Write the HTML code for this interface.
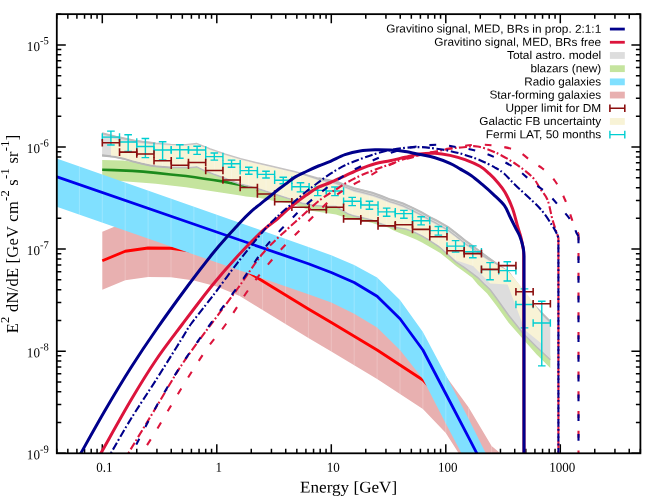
<!DOCTYPE html>
<html><head><meta charset="utf-8"><title>plot</title>
<style>
html,body{margin:0;padding:0;background:#fff;}
body{width:664px;height:496px;overflow:hidden;}
svg{display:block;}
text{fill:#000;}
.ss{font-family:"Liberation Sans",sans-serif;}
.sf{font-family:"Liberation Serif",serif;}
</style></head><body>
<svg width="664" height="496" viewBox="0 0 664 496" style="will-change:transform">
<rect x="0" y="0" width="664" height="496" fill="#fff"/>
<defs><clipPath id="cp"><rect x="56.8" y="14.15" width="583.6" height="439.15000000000003"/></clipPath></defs>

<path d="M56.74 453.3v-4.5 M56.74 14.15v4.5 M67.83 453.3v-4.5 M67.83 14.15v4.5 M76.9 453.3v-4.5 M76.9 14.15v4.5 M84.56 453.3v-4.5 M84.56 14.15v4.5 M91.2 453.3v-4.5 M91.2 14.15v4.5 M97.06 453.3v-4.5 M97.06 14.15v4.5 M102.3 453.3v-9 M102.3 14.15v9 M136.77 453.3v-4.5 M136.77 14.15v4.5 M156.93 453.3v-4.5 M156.93 14.15v4.5 M171.24 453.3v-4.5 M171.24 14.15v4.5 M182.33 453.3v-4.5 M182.33 14.15v4.5 M191.4 453.3v-4.5 M191.4 14.15v4.5 M199.06 453.3v-4.5 M199.06 14.15v4.5 M205.7 453.3v-4.5 M205.7 14.15v4.5 M211.56 453.3v-4.5 M211.56 14.15v4.5 M216.8 453.3v-9 M216.8 14.15v9 M251.27 453.3v-4.5 M251.27 14.15v4.5 M271.43 453.3v-4.5 M271.43 14.15v4.5 M285.74 453.3v-4.5 M285.74 14.15v4.5 M296.83 453.3v-4.5 M296.83 14.15v4.5 M305.9 453.3v-4.5 M305.9 14.15v4.5 M313.56 453.3v-4.5 M313.56 14.15v4.5 M320.2 453.3v-4.5 M320.2 14.15v4.5 M326.06 453.3v-4.5 M326.06 14.15v4.5 M331.3 453.3v-9 M331.3 14.15v9 M365.77 453.3v-4.5 M365.77 14.15v4.5 M385.93 453.3v-4.5 M385.93 14.15v4.5 M400.24 453.3v-4.5 M400.24 14.15v4.5 M411.33 453.3v-4.5 M411.33 14.15v4.5 M420.4 453.3v-4.5 M420.4 14.15v4.5 M428.06 453.3v-4.5 M428.06 14.15v4.5 M434.7 453.3v-4.5 M434.7 14.15v4.5 M440.56 453.3v-4.5 M440.56 14.15v4.5 M445.8 453.3v-9 M445.8 14.15v9 M480.27 453.3v-4.5 M480.27 14.15v4.5 M500.43 453.3v-4.5 M500.43 14.15v4.5 M514.74 453.3v-4.5 M514.74 14.15v4.5 M525.83 453.3v-4.5 M525.83 14.15v4.5 M534.9 453.3v-4.5 M534.9 14.15v4.5 M542.56 453.3v-4.5 M542.56 14.15v4.5 M549.2 453.3v-4.5 M549.2 14.15v4.5 M555.06 453.3v-4.5 M555.06 14.15v4.5 M560.3 453.3v-9 M560.3 14.15v9 M594.77 453.3v-4.5 M594.77 14.15v4.5 M614.93 453.3v-4.5 M614.93 14.15v4.5 M629.24 453.3v-4.5 M629.24 14.15v4.5 M640.33 453.3v-4.5 M640.33 14.15v4.5 M56.8 453.3h9 M640.4 453.3h-9 M56.8 422.56h4.5 M640.4 422.56h-4.5 M56.8 404.59h4.5 M640.4 404.59h-4.5 M56.8 391.83h4.5 M640.4 391.83h-4.5 M56.8 381.94h4.5 M640.4 381.94h-4.5 M56.8 373.85h4.5 M640.4 373.85h-4.5 M56.8 367.02h4.5 M640.4 367.02h-4.5 M56.8 361.09h4.5 M640.4 361.09h-4.5 M56.8 355.87h4.5 M640.4 355.87h-4.5 M56.8 351.2h9 M640.4 351.2h-9 M56.8 320.46h4.5 M640.4 320.46h-4.5 M56.8 302.49h4.5 M640.4 302.49h-4.5 M56.8 289.73h4.5 M640.4 289.73h-4.5 M56.8 279.84h4.5 M640.4 279.84h-4.5 M56.8 271.75h4.5 M640.4 271.75h-4.5 M56.8 264.92h4.5 M640.4 264.92h-4.5 M56.8 258.99h4.5 M640.4 258.99h-4.5 M56.8 253.77h4.5 M640.4 253.77h-4.5 M56.8 249.1h9 M640.4 249.1h-9 M56.8 218.36h4.5 M640.4 218.36h-4.5 M56.8 200.39h4.5 M640.4 200.39h-4.5 M56.8 187.63h4.5 M640.4 187.63h-4.5 M56.8 177.74h4.5 M640.4 177.74h-4.5 M56.8 169.65h4.5 M640.4 169.65h-4.5 M56.8 162.82h4.5 M640.4 162.82h-4.5 M56.8 156.89h4.5 M640.4 156.89h-4.5 M56.8 151.67h4.5 M640.4 151.67h-4.5 M56.8 147h9 M640.4 147h-9 M56.8 116.26h4.5 M640.4 116.26h-4.5 M56.8 98.29h4.5 M640.4 98.29h-4.5 M56.8 85.53h4.5 M640.4 85.53h-4.5 M56.8 75.64h4.5 M640.4 75.64h-4.5 M56.8 67.55h4.5 M640.4 67.55h-4.5 M56.8 60.72h4.5 M640.4 60.72h-4.5 M56.8 54.79h4.5 M640.4 54.79h-4.5 M56.8 49.57h4.5 M640.4 49.57h-4.5 M56.8 44.9h9 M640.4 44.9h-9 M56.8 14.16h4.5 M640.4 14.16h-4.5" fill="none" stroke="#000" stroke-width="1.5"/>
<g clip-path="url(#cp)">
<polygon points="102.2,160 123.2,160.4 132.3,161.8 141.4,159.6 150.4,161.4 155.9,162.3 170.6,163.4 185.8,163.6 188.7,163.8 196.9,162.9 204.1,166.5 213.2,170.1 222.3,173.3 231.4,177 240.4,180.2 248,182 257.8,184.8 274.2,190 291.2,195.4 302,199.2 314.2,201.6 326.3,202.5 336,202.6 342,206.3 348.1,209.9 354.2,212.1 360.2,213.3 366.3,214.8 372.4,216.3 379,219.2 388.1,222.2 397.2,223.8 406.3,225.3 412.4,227.4 416,229.1 422,232 428.1,235.6 434.2,239.6 440.2,243.5 448,250.8 456.1,258.1 464.1,263.3 472.2,269.4 478,273.8 483.6,279.5 490,285.5 496.3,294 508.6,311.3 523.4,329.8 536.4,342.8 550.3,355.8 550.3,368.1 536.4,354.2 523.4,339.4 508.6,322.7 496.3,305.5 487.1,293.5 478,284.7 472.2,277.8 464.1,271.8 456.1,266.1 448,259.3 440.2,253 434.2,249.6 428.1,246 422,242.4 416,239.6 412.4,238.1 406.3,235.6 400.2,233.2 394.2,230.8 388.1,227.5 376,224.2 372.4,223 366.3,221.5 360.2,220.3 354.2,219.4 348.1,218.2 342,216.4 336,214.5 326.3,212.9 311,210.8 291.2,203.6 274.2,200.9 257.8,197.6 245.9,196.4 240.4,195.5 222.3,192.75 204.1,190 186,187.3 170.6,185.5 155.9,183.8 143.2,182.7 123.2,181.3 102.2,180.9" fill="#c5e49e" />
<path d="M102.2 169.8 L114.1 170.1 L132.3 170.9 L143.2 171.6 L155.9 172.9 L170.6 174.5 L186 176 L195.1 177.3 L204.1 178.7 L213.2 180 L222.3 181.4 L231.4 183.2 L240.4 185 L248 186.8" fill="none" stroke="#1c8a1c" stroke-width="2.6"/>
<polygon points="102.3,231.75 125.2,222.25 148.1,219 171,219.25 193.9,222.5 216.8,228.5 239.7,238 262.6,252 285.5,266 308.4,280 331.3,293.5 354.2,307.25 377.1,321 400,336 422.9,351 445.8,376 468.7,407.5 491.6,446 514.5,465 514.5,520 491.6,509 468.7,469 445.8,433 422.9,409 400,394 377.1,379 354.2,365.25 331.3,351.5 308.4,338 285.5,324 262.6,310 239.7,296 216.8,286.5 193.9,280.5 171,277.25 148.1,277 125.2,280.25 102.3,289.75" fill="#e8b0b0" />
<path d="M125.2 222.25V280.25 M148.1 219V277 M171 219.25V277.25 M193.9 222.5V280.5 M216.8 228.5V286.5 M239.7 238V296 M262.6 252V310 M285.5 266V324 M308.4 280V338 M331.3 293.5V351.5 M354.2 307.25V365.25 M377.1 321V379 M400 336V394 M422.9 351V409 M445.8 376V433 M468.7 407.5V469 M491.6 446V509" fill="none" stroke="#fff" stroke-opacity="0.28" stroke-width="0.8"/>
<path d="M102.3 260.75 L125.2 251.25 L148.1 248 L171 248.25 L193.9 251.5 L216.8 257.5 L239.7 267 L262.6 281 L285.5 295 L308.4 309 L331.3 322.5 L354.2 336.25 L377.1 350 L400 365 L422.9 380 L445.8 404 L468.7 440 L491.6 480" fill="none" stroke="#ff0000" stroke-width="2.8" stroke-linejoin="round"/>
<polygon points="55.36,158 308.4,247 331.3,255.3 354.2,265 377.1,277.5 400,300 422.9,332 445.8,375 468.7,419 491.6,465 468.7,467 445.8,423.5 422.9,379 400,350 377.1,327.5 354.2,313.75 331.3,302.5 308.4,294.3 55.36,206.4" fill="#80e0ff" />
<path d="M79.4 166.46V214.75 M102.3 174.51V222.71 M125.2 182.57V230.66 M148.1 190.62V238.62 M171 198.67V246.57 M193.9 206.73V254.53 M216.8 214.78V262.48 M239.7 222.84V270.44 M262.6 230.89V278.39 M285.5 238.95V286.35 M308.4 247V294.3 M331.3 255.3V302.5 M354.2 265V313.75 M377.1 277.5V327.5 M400 300V350 M422.9 332V379 M445.8 375V423.5" fill="none" stroke="#fff" stroke-opacity="0.28" stroke-width="0.8"/>
<path d="M55.36 176.2 L308.4 263.75 L331.3 272.5 L354.2 282.5 L377.1 296.25 L400 318.75 L422.9 350 L445.8 393.75 L468.7 437.6 L491.6 482" fill="none" stroke="#0000ee" stroke-width="2.8" stroke-linejoin="round"/>
<polygon points="102.1,133.3 117.7,137.1 135.8,140.9 155.5,143.2 170.6,144.4 185.8,144.7 196.6,143.4 210.3,148.9 225.4,154.2 240.5,158.7 255.6,162.5 270.8,166 294.2,171.5 318.4,178.2 336,181.6 345.1,185.1 354.1,188.3 363.2,190.5 372.3,192.8 381.4,196 390.4,199.6 394,200.6 403.1,203.5 412.1,207.6 421.2,212.1 430.3,217.4 436,220.2 442,223.6 448.1,227.2 454.2,231.8 460.2,236.6 466.3,241.5 470.1,244 479.2,251 488.3,257.8 494.6,262.3 500.7,267 508,271.5 514.1,280 520.6,288.3 525.3,296.7 542.1,313.4 550.3,321.7 550.3,359.8 536.4,346.8 523.4,333.8 508.6,315.3 496.3,298 490,289.5 483.6,283.5 478,277.8 472.2,273.4 464.1,267.3 456.1,262.1 448,254.8 440.2,247.5 434.2,243.6 428.1,239.6 422,236 416,233.1 412.4,231.4 406.3,229.3 397.2,227.8 388.1,226.2 379,223.2 372.4,220.3 366.3,218.8 360.2,217.3 354.2,216.1 348.1,213.9 342,210.3 336,206.6 326.3,206.5 314.2,205.6 302,203.2 291.2,199.4 274.2,194 257.8,188.8 248,186 240.4,184.2 231.4,181 222.3,177.3 213.2,174.1 204.1,170.5 196.9,166.9 188.7,167.8 185.8,167.6 170.6,167.4 155.9,166.3 150.4,165.4 141.4,163.6 132.3,161.3 123.2,158.6 114.1,156.8 102.1,155.4" fill="#dddddd" />
<path d="M102.1 133.3 L117.7 137.1 L135.8 140.9 L155.5 143.2 L170.6 144.4 L185.8 144.7 L196.6 143.4 L210.3 148.9 L225.4 154.2 L240.5 158.7 L255.6 162.5 L270.8 166 L294.2 171.5 L318.4 178.2 L336 181.6 L345.1 185.1 L354.1 188.3 L363.2 190.5 L372.3 192.8 L381.4 196 L390.4 199.6 L394 200.6 L403.1 203.5 L412.1 207.6 L421.2 212.1 L430.3 217.4 L436 220.2 L442 223.6 L448.1 227.2 L454.2 231.8 L460.2 236.6 L466.3 241.5 L470.1 244 L479.2 251 L488.3 257.8 L494.6 262.3 L500.7 267 L508 271.5 L514.1 280 L520.6 288.3 L525.3 296.7 L542.1 313.4 L550.3 321.7" fill="none" stroke="#c6c3c3" stroke-width="1.3"/>
<path d="M318.4 178.2 L336 181.6 L345.1 185.1 L354.1 188.3 L363.2 190.5 L372.3 192.8 L381.4 196 L390.4 199.6 L394 200.6 L403.1 203.5 L412.1 207.6 L421.2 212.1 L430.3 217.4 L436 220.2 L442 223.6 L448.1 227.2 L454.2 231.8 L460.2 236.6 L466.3 241.5 L470.1 244 L479.2 251 L488.3 257.8 L494.6 262.3 L500.7 267 L508 271.5 L514.1 280 L520.6 288.3 L525.3 296.7 L542.1 313.4 L550.3 321.7" fill="none" stroke="#bcbcbc" stroke-width="2.1"/>
<path d="M102.1 155.4 L114.1 156.8 L123.2 158.6 L132.3 161.3 L141.4 163.6 L150.4 165.4 L155.9 166.3 L170.6 167.4 L185.8 167.6 L188.7 167.8 L196.9 166.9 L204.1 170.5 L213.2 174.1 L222.3 177.3 L231.4 181 L240.4 184.2 L248 186 L257.8 188.8 L274.2 194 L291.2 199.4 L302 203.2 L314.2 205.6 L326.3 206.5 L336 206.6 L342 210.3 L348.1 213.9 L354.2 216.1 L360.2 217.3 L366.3 218.8 L372.4 220.3 L379 223.2 L388.1 226.2 L397.2 227.8 L406.3 229.3 L412.4 231.4 L416 233.1 L422 236 L428.1 239.6 L434.2 243.6 L440.2 247.5 L448 254.8 L456.1 262.1 L464.1 267.3 L472.2 273.4 L478 277.8 L483.6 283.5 L490 289.5 L496.3 298 L508.6 315.3 L523.4 333.8 L536.4 346.8 L550.3 359.8" fill="none" stroke="#bcbcbc" stroke-width="1.5"/>
<path d="M102.1 155.4 L114.1 156.8 L123.2 158.6 L132.3 161.3 L141.4 163.6 L150.4 165.4 L155.9 166.3 L170.6 167.4" fill="none" stroke="#b6b6b6" stroke-width="2.1"/>
<path d="M102.1 133.3 L117.7 137.1 L135.8 140.9 L155.5 143.2" fill="none" stroke="#bebcbc" stroke-width="2"/>
<polygon points="110.92,138.22 117.7,139.66 135.8,142.91 155.5,144.7 170.6,145.51 185.8,145.7 196.6,144.4 210.3,149.9 225.4,155.2 240.5,159.7 255.6,163.5 270.8,167 294.2,172.5 300,174.11 318.4,180.52 336,184.7 345.1,188.5 354,191.96 354.1,192 363.2,194.2 372.3,196.5 381.4,199.7 390.4,203.3 394,204.3 403.1,207.45 412,211.75 412.1,211.8 421.2,216.4 430.3,221.8 436,224.66 440,226.97 442,228.1 448.1,231.7 454.2,236.3 460.2,241.1 465,244.96 466.3,245.94 470.1,248.26 479.2,254.84 480,255.4 488,260.48 488.3,260.65 494.6,263.55 496,264.38 507.6,270.5 524.9,291 542.1,315 542.1,344 524.9,330 507.6,284.4 490.4,283.5 473.1,266 455.9,260.3 438.6,245.2 434.2,242.6 428.1,238.6 422,235 416,232.1 412.4,230.4 406.3,228.3 397.2,226.8 388.1,225.2 379,222.2 372.4,219.3 366.3,217.8 360.2,216.3 354.2,215.1 348.1,212.9 342,209.3 336,205.6 326.3,205.5 314.2,204.6 302,202.2 291.2,198.4 274.2,193 257.8,187.8 248,185 240.4,183.2 231.4,180 222.3,176.3 213.2,173.1 204.1,169.5 196.9,165.9 188.7,166.8 185.8,166.6 170.6,166.4 155.9,165.3 150.4,164.4 141.4,162.6 132.3,160.3 123.2,157.6 114.1,155.8 110.92,155.43" fill="#f8f3d6" />
<path d="M128.15 141.54V159.07 M145.38 143.78V163.4 M162.62 145.08V165.8 M179.85 145.63V166.52 M197.09 144.6V165.99 M214.32 151.31V173.49 M231.56 157.03V180.06 M248.79 161.79V185.23 M266.02 165.9V190.41 M283.26 169.93V195.88 M300.49 174.28V201.67 M317.73 180.28V204.86 M334.96 184.45V205.59 M352.19 191.26V214.38 M369.43 195.77V218.57 M386.66 201.8V224.73 M403.9 207.84V227.9 M421.13 216.36V234.58 M438.36 226.02V245.06 M455.6 237.42V260.04 M472.83 250.24V265.91 M490.07 261.46V283.16 M507.3 270.34V284.38 M524.53 290.57V329.03" fill="none" stroke="#fff" stroke-opacity="0.3" stroke-width="0.8"/>
<path d="M300 173.11 L318.4 179.02 L336 183.2 L345.1 187 L354 190.46 L354.1 190.5 L363.2 192.7 L372.3 195 L381.4 198.2 L390.4 201.8 L394 202.8 L403.1 205.95 L412 210.25 L412.1 210.3 L421.2 214.9 L430.3 220.3 L436 223.16 L440 225.47 L442 226.6 L448.1 230.2 L454.2 234.8 L460.2 239.6 L465 243.46 L466.3 244.44 L470.1 246.76 L479.2 253.34 L480 253.9 L488 258.98 L488.3 259.15 L494.6 262.55 L496 263.38" fill="none" stroke="#bcbcbc" stroke-width="1.3"/>
<path d="M102.3 137.1H119.53 M102.3 133.3V140.9 M119.53 133.3V140.9 M110.92 131.1V145 M107.12 131.1H114.72 M107.12 145H114.72" fill="none" stroke="#00ced1" stroke-width="1.4"/>
<path d="M119.53 142H136.77 M119.53 138.2V145.8 M136.77 138.2V145.8 M128.15 134.7V151.4 M124.35 134.7H131.95 M124.35 151.4H131.95" fill="none" stroke="#00ced1" stroke-width="1.4"/>
<path d="M136.77 146.5H154 M136.77 142.7V150.3 M154 142.7V150.3 M145.38 138.5V157.6 M141.58 138.5H149.19 M141.58 157.6H149.19" fill="none" stroke="#00ced1" stroke-width="1.4"/>
<path d="M154 150H171.24 M154 146.2V153.8 M171.24 146.2V153.8 M162.62 141.8V159.9 M158.82 141.8H166.42 M158.82 159.9H166.42" fill="none" stroke="#00ced1" stroke-width="1.4"/>
<path d="M171.24 149.7H188.47 M171.24 145.9V153.5 M188.47 145.9V153.5 M179.85 144.7V158.2 M176.05 144.7H183.65 M176.05 158.2H183.65" fill="none" stroke="#00ced1" stroke-width="1.4"/>
<path d="M188.47 150H205.7 M188.47 146.2V153.8 M205.7 146.2V153.8 M197.09 146.25V154.4 M193.29 146.25H200.89 M193.29 154.4H200.89" fill="none" stroke="#00ced1" stroke-width="1.4"/>
<path d="M205.7 156.6H222.94 M205.7 152.8V160.4 M222.94 152.8V160.4 M214.32 153V160.1 M210.52 153H218.12 M210.52 160.1H218.12" fill="none" stroke="#00ced1" stroke-width="1.4"/>
<path d="M222.94 163.7H240.17 M222.94 159.9V167.5 M240.17 159.9V167.5 M231.56 160.1V167.3 M227.75 160.1H235.36 M227.75 167.3H235.36" fill="none" stroke="#00ced1" stroke-width="1.4"/>
<path d="M240.17 170.6H257.41 M240.17 166.8V174.4 M257.41 166.8V174.4 M248.79 167.2V174.2 M244.99 167.2H252.59 M244.99 174.2H252.59" fill="none" stroke="#00ced1" stroke-width="1.4"/>
<path d="M257.41 174.4H274.64 M257.41 170.6V178.2 M274.64 170.6V178.2 M266.02 171.25V178 M262.22 171.25H269.82 M262.22 178H269.82" fill="none" stroke="#00ced1" stroke-width="1.4"/>
<path d="M274.64 180.2H291.87 M274.64 176.4V184 M291.87 176.4V184 M283.26 177.25V183.75 M279.46 177.25H287.06 M279.46 183.75H287.06" fill="none" stroke="#00ced1" stroke-width="1.4"/>
<path d="M291.87 186.8H309.11 M291.87 183V190.6 M309.11 183V190.6 M300.49 182.75V191.9 M296.69 182.75H304.29 M296.69 191.9H304.29" fill="none" stroke="#00ced1" stroke-width="1.4"/>
<path d="M309.11 190.4H326.34 M309.11 186.6V194.2 M326.34 186.6V194.2 M317.73 186.9V195.6 M313.93 186.9H321.53 M313.93 195.6H321.53" fill="none" stroke="#00ced1" stroke-width="1.4"/>
<path d="M326.34 191H343.58 M326.34 187.2V194.8 M343.58 187.2V194.8 M334.96 187V195.6 M331.16 187H338.76 M331.16 195.6H338.76" fill="none" stroke="#00ced1" stroke-width="1.4"/>
<path d="M343.58 201.3H360.81 M343.58 197.5V205.1 M360.81 197.5V205.1 M352.19 197.4V205.6 M348.39 197.4H355.99 M348.39 205.6H355.99" fill="none" stroke="#00ced1" stroke-width="1.4"/>
<path d="M360.81 205H378.04 M360.81 201.2V208.8 M378.04 201.2V208.8 M369.43 201.25V209.2 M365.63 201.25H373.23 M365.63 209.2H373.23" fill="none" stroke="#00ced1" stroke-width="1.4"/>
<path d="M378.04 211.9H395.28 M378.04 208.1V215.7 M395.28 208.1V215.7 M386.66 208.1V216.25 M382.86 208.1H390.46 M382.86 216.25H390.46" fill="none" stroke="#00ced1" stroke-width="1.4"/>
<path d="M395.28 213.6H412.51 M395.28 209.8V217.4 M412.51 209.8V217.4 M403.89 210.4V218.3 M400.09 210.4H407.69 M400.09 218.3H407.69" fill="none" stroke="#00ced1" stroke-width="1.4"/>
<path d="M412.51 220.8H429.75 M412.51 217V224.6 M429.75 217V224.6 M421.13 216.7V224.9 M417.33 216.7H424.93 M417.33 224.9H424.93" fill="none" stroke="#00ced1" stroke-width="1.4"/>
<path d="M429.75 230.6H446.98 M429.75 226.8V234.4 M446.98 226.8V234.4 M438.36 226.5V235.1 M434.56 226.5H442.16 M434.56 235.1H442.16" fill="none" stroke="#00ced1" stroke-width="1.4"/>
<path d="M446.98 246.1H464.21 M446.98 242.3V249.9 M464.21 242.3V249.9 M455.6 240.6V252 M451.8 240.6H459.4 M451.8 252H459.4" fill="none" stroke="#00ced1" stroke-width="1.4"/>
<path d="M464.21 251.7H481.45 M464.21 247.9V255.5 M481.45 247.9V255.5 M472.83 245.9V257.7 M469.03 245.9H476.63 M469.03 257.7H476.63" fill="none" stroke="#00ced1" stroke-width="1.4"/>
<path d="M481.45 269.6H498.68 M481.45 265.8V273.4 M498.68 265.8V273.4 M490.07 262.6V279.7 M486.27 262.6H493.87 M486.27 279.7H493.87" fill="none" stroke="#00ced1" stroke-width="1.4"/>
<path d="M498.68 270.6H515.92 M498.68 266.8V274.4 M515.92 266.8V274.4 M507.3 261.8V281 M503.5 261.8H511.1 M503.5 281H511.1" fill="none" stroke="#00ced1" stroke-width="1.4"/>
<path d="M515.92 304.5H533.15 M515.92 300.7V308.3 M533.15 300.7V308.3 M524.53 288.9V327.9 M520.73 288.9H528.33 M520.73 327.9H528.33" fill="none" stroke="#00ced1" stroke-width="1.4"/>
<path d="M533.15 323H550.38 M533.15 319.2V326.8 M550.38 319.2V326.8 M541.77 301.3V365.9 M537.97 301.3H545.57 M537.97 365.9H545.57" fill="none" stroke="#00ced1" stroke-width="1.4"/>
<path d="M102.3 142.7H119.53 M102.3 138.9V146.5 M119.53 138.9V146.5" fill="none" stroke="#8b0f0f" stroke-width="1.6"/>
<path d="M119.53 152.1H136.77 M119.53 148.3V155.9 M136.77 148.3V155.9" fill="none" stroke="#8b0f0f" stroke-width="1.6"/>
<path d="M136.77 154H154 M136.77 150.2V157.8 M154 150.2V157.8" fill="none" stroke="#8b0f0f" stroke-width="1.6"/>
<path d="M154 160.8H171.24 M154 157V164.6 M171.24 157V164.6" fill="none" stroke="#8b0f0f" stroke-width="1.6"/>
<path d="M171.24 165.3H188.47 M171.24 161.5V169.1 M188.47 161.5V169.1" fill="none" stroke="#8b0f0f" stroke-width="1.6"/>
<path d="M188.47 162.5H205.7 M188.47 158.7V166.3 M205.7 158.7V166.3" fill="none" stroke="#8b0f0f" stroke-width="1.6"/>
<path d="M205.7 170.5H222.94 M205.7 166.7V174.3 M222.94 166.7V174.3" fill="none" stroke="#8b0f0f" stroke-width="1.6"/>
<path d="M222.94 180H240.17 M222.94 176.2V183.8 M240.17 176.2V183.8" fill="none" stroke="#8b0f0f" stroke-width="1.6"/>
<path d="M240.17 187.5H257.41 M240.17 183.7V191.3 M257.41 183.7V191.3" fill="none" stroke="#8b0f0f" stroke-width="1.6"/>
<path d="M257.41 194H274.64 M257.41 190.2V197.8 M274.64 190.2V197.8" fill="none" stroke="#8b0f0f" stroke-width="1.6"/>
<path d="M274.64 201.8H291.87 M274.64 198V205.6 M291.87 198V205.6" fill="none" stroke="#8b0f0f" stroke-width="1.6"/>
<path d="M291.87 207.2H309.11 M291.87 203.4V211 M309.11 203.4V211" fill="none" stroke="#8b0f0f" stroke-width="1.6"/>
<path d="M309.11 209.7H326.34 M309.11 205.9V213.5 M326.34 205.9V213.5" fill="none" stroke="#8b0f0f" stroke-width="1.6"/>
<path d="M326.34 207.3H343.58 M326.34 203.5V211.1 M343.58 203.5V211.1" fill="none" stroke="#8b0f0f" stroke-width="1.6"/>
<path d="M343.58 218.9H360.81 M343.58 215.1V222.7 M360.81 215.1V222.7" fill="none" stroke="#8b0f0f" stroke-width="1.6"/>
<path d="M360.81 220.9H378.04 M360.81 217.1V224.7 M378.04 217.1V224.7" fill="none" stroke="#8b0f0f" stroke-width="1.6"/>
<path d="M378.04 225.9H395.28 M378.04 222.1V229.7 M395.28 222.1V229.7" fill="none" stroke="#8b0f0f" stroke-width="1.6"/>
<path d="M395.28 224.8H412.51 M395.28 221V228.6 M412.51 221V228.6" fill="none" stroke="#8b0f0f" stroke-width="1.6"/>
<path d="M412.51 229.4H429.75 M412.51 225.6V233.2 M429.75 225.6V233.2" fill="none" stroke="#8b0f0f" stroke-width="1.6"/>
<path d="M429.75 236.8H446.98 M429.75 233V240.6 M446.98 233V240.6" fill="none" stroke="#8b0f0f" stroke-width="1.6"/>
<path d="M446.98 250.7H464.21 M446.98 246.9V254.5 M464.21 246.9V254.5" fill="none" stroke="#8b0f0f" stroke-width="1.6"/>
<path d="M464.21 253.6H481.45 M464.21 249.8V257.4 M481.45 249.8V257.4" fill="none" stroke="#8b0f0f" stroke-width="1.6"/>
<path d="M481.45 269.4H498.68 M481.45 265.6V273.2 M498.68 265.6V273.2" fill="none" stroke="#8b0f0f" stroke-width="1.6"/>
<path d="M498.68 265.6H515.92 M498.68 261.8V269.4 M515.92 261.8V269.4" fill="none" stroke="#8b0f0f" stroke-width="1.6"/>
<path d="M515.92 291.8H533.15 M515.92 288V295.6 M533.15 288V295.6" fill="none" stroke="#8b0f0f" stroke-width="1.6"/>
<path d="M533.15 303.7H550.38 M533.15 299.9V307.5 M550.38 299.9V307.5" fill="none" stroke="#8b0f0f" stroke-width="1.6"/>
<path d="M123.5 462 C124.33 460.5 123.08 462.08 128.5 453 C133.92 443.92 147.25 422 156 407.5 C164.75 393 172.67 378.75 181 366 C189.33 353.25 200.96 338 206 331 C211.04 324 206 331.04 211.25 324 C216.5 316.96 228.96 300.46 237.5 288.75 C246.04 277.04 254.17 263.71 262.5 253.75 C270.83 243.79 281.52 234.74 287.5 229 C293.48 223.26 294.98 222.38 298.4 219.3 C301.82 216.22 304.67 213.52 308 210.5 C311.33 207.48 314.65 204.17 318.4 201.2 C322.15 198.23 327.27 194.83 330.5 192.7 C333.73 190.57 335.38 189.92 337.8 188.4 C340.22 186.88 341.3 185.7 345 183.6 C348.7 181.5 356 177.73 360 175.8 C364 173.87 365.17 173.5 369 172 C372.83 170.5 378.67 168.38 383 166.8 C387.33 165.22 392 163.63 395 162.5 C398 161.37 396 161.46 401 160 C406 158.54 416.83 155.62 425 153.75 C433.17 151.88 443.17 149.88 450 148.75 C456.83 147.62 461.42 147.38 466 147 C470.58 146.62 472.67 145.62 477.5 146.5 C482.33 147.38 488.75 149.42 495 152.25 C501.25 155.08 508.75 159.33 515 163.5 C521.25 167.67 528.33 173.08 532.5 177.25 C536.67 181.42 537.5 184.75 540 188.5 C542.5 192.25 545.42 194.54 547.5 199.75 C549.58 204.96 550.92 214.12 552.5 219.75 C554.08 225.38 556.25 231.21 557 233.5 L558.4 237.8" fill="none" stroke="#dc143c" stroke-width="2.1" stroke-linejoin="round" stroke-dasharray="7.9 2.2 1.8 2.63"/>
<path d="M558.4 237.8V458.3" fill="none" stroke="#dc143c" stroke-width="2.1" stroke-dasharray="7.9 2.2 1.8 2.63" stroke-dashoffset="0.53"/>
<path d="M137 462 C137.83 460.5 138.83 458.17 142 453 C145.17 447.83 149.5 441.67 156 431 C162.5 420.33 172.67 402.5 181 389 C189.33 375.5 198.5 360.83 206 350 C213.5 339.17 218.67 334.42 226 324 C233.33 313.58 241.83 298.79 250 287.5 C258.17 276.21 266.67 265.83 275 256.25 C283.33 246.67 292.83 237.43 300 230 C307.17 222.57 312.62 216.97 318 211.7 C323.38 206.43 327.53 202.32 332.3 198.4 C337.07 194.48 340.82 191.72 346.6 188.2 C352.38 184.68 360.68 180.75 367 177.3 C373.32 173.85 379 170.22 384.5 167.5 C390 164.78 393.25 163.25 400 161 C406.75 158.75 415.83 156.29 425 154 C434.17 151.71 446.25 148.79 455 147.25 C463.75 145.71 470.42 144.96 477.5 144.75 C484.58 144.54 490.83 144.96 497.5 146 C504.17 147.04 511.67 148.29 517.5 151 C523.33 153.71 528.33 159.33 532.5 162.25 C536.67 165.17 538.75 165.38 542.5 168.5 C546.25 171.62 551.25 175.79 555 181 C558.75 186.21 562.08 193.08 565 199.75 C567.92 206.42 570.53 215.62 572.5 221 C574.47 226.38 576.08 230.17 576.8 232 L578.5 233.35" fill="none" stroke="#dc143c" stroke-width="2.1" stroke-linejoin="round" stroke-dasharray="6.8 12.95"/>
<path d="M578.5 233.35V458.3" fill="none" stroke="#dc143c" stroke-width="2.1" stroke-dasharray="6.8 12.95" stroke-dashoffset="0"/>
<path d="M95.8 462 C96.67 460.5 95.13 463.33 101 453 C106.87 442.67 121.83 415.5 131 400 C140.17 384.5 147.42 372.67 156 360 C164.58 347.33 173.08 336.5 182.5 324 C191.92 311.5 203.33 296.29 212.5 285 C221.67 273.71 229.17 265.27 237.5 256.25 C245.83 247.23 255.87 237.09 262.5 230.9 C269.13 224.71 274.03 221.83 277.3 219.1 C280.57 216.37 279.28 216.98 282.1 214.5 C284.92 212.02 290.17 207.43 294.2 204.2 C298.23 200.97 302.27 197.93 306.3 195.1 C310.33 192.27 314.37 189.3 318.4 187.2 C322.43 185.1 326.07 184.4 330.5 182.5 C334.93 180.6 340.08 178.05 345 175.8 C349.92 173.55 355 171.02 360 169 C365 166.98 370 165.08 375 163.7 C380 162.32 385 161.77 390 160.7 C395 159.63 400 158.42 405 157.3 C410 156.18 415 154.67 420 154 C425 153.33 430 153.07 435 153.3 C440 153.53 445 154.35 450 155.4 C455 156.45 460 157.78 465 159.6 C470 161.42 475.95 163.95 480 166.3 C484.05 168.65 486.38 171.04 489.3 173.7 C492.22 176.36 494.88 179.16 497.5 182.25 C500.12 185.34 502.5 187.88 505 192.25 C507.5 196.62 510.42 202.88 512.5 208.5 C514.58 214.12 516.04 221 517.5 226 C518.96 231 520.22 234.17 521.25 238.5 C522.28 242.83 523.29 249.75 523.7 252 L524 458.3" fill="none" stroke="#dc143c" stroke-width="3.0" stroke-linejoin="round"/>
<path d="M106 462 C106.83 460.5 106.83 460.21 111 453 C115.17 445.79 123.5 430.92 131 418.75 C138.5 406.58 147.67 393.12 156 380 C164.33 366.88 175.17 349.33 181 340 C186.83 330.67 185.75 331.29 191 324 C196.25 316.71 204.75 306.45 212.5 296.25 C220.25 286.05 229.17 273.51 237.5 262.8 C245.83 252.09 256.28 239.32 262.5 232 C268.72 224.68 271.53 222.2 274.8 218.9 C278.07 215.6 278.87 215.05 282.1 212.2 C285.33 209.35 290.17 205.25 294.2 201.8 C298.23 198.35 302.27 194.73 306.3 191.5 C310.33 188.27 314.37 185.37 318.4 182.4 C322.43 179.43 326.07 176.55 330.5 173.7 C334.93 170.85 340.08 167.72 345 165.3 C349.92 162.88 355 161.1 360 159.2 C365 157.3 370 155.42 375 153.9 C380 152.38 385 151.1 390 150.1 C395 149.1 400 148.4 405 147.9 C410 147.4 415 147 420 147.1 C425 147.2 430 147.85 435 148.5 C440 149.15 445 149.93 450 151 C455 152.07 460 153.37 465 154.9 C470 156.43 475 158.08 480 160.2 C485 162.32 490.95 165.35 495 167.6 C499.05 169.85 500.97 170.84 504.3 173.7 C507.63 176.56 509.05 178.95 515 184.75 C520.95 190.55 533.75 201.62 540 208.5 C546.25 215.38 549.67 221.75 552.5 226 C555.33 230.25 556.25 232.67 557 234 L558.4 237.8" fill="none" stroke="#00008b" stroke-width="2.1" stroke-linejoin="round" stroke-dasharray="7.9 2.2 1.8 2.63"/>
<path d="M558.4 237.8V458.3" fill="none" stroke="#00008b" stroke-width="2.1" stroke-dasharray="7.9 2.2 1.8 2.63" stroke-dashoffset="7.73"/>
<path d="M127 462 C127.83 460.5 127.17 462.17 132 453 C136.83 443.83 147.83 421.58 156 407 C164.17 392.42 172.67 378.33 181 365.5 C189.33 352.67 196.58 343.08 206 330 C215.42 316.92 228.08 300.17 237.5 287 C246.92 273.83 256.25 259.5 262.5 251 C268.75 242.5 270.42 241.08 275 236 C279.58 230.92 285.43 225.15 290 220.5 C294.57 215.85 297.82 212.33 302.4 208.1 C306.98 203.87 312.4 199.23 317.5 195.1 C322.6 190.97 327.75 187.07 333 183.3 C338.25 179.53 343.33 175.83 349 172.5 C354.67 169.17 361.08 166.17 367 163.3 C372.92 160.43 378.57 157.67 384.5 155.3 C390.43 152.93 396.43 150.67 402.6 149.1 C408.77 147.53 415.27 146.62 421.5 145.9 C427.73 145.18 434 144.53 440 144.75 C446 144.97 451.25 146.21 457.5 147.25 C463.75 148.29 470.83 149.12 477.5 151 C484.17 152.88 490.83 155.38 497.5 158.5 C504.17 161.62 511.67 165.79 517.5 169.75 C523.33 173.71 527.5 178.29 532.5 182.25 C537.5 186.21 542.92 189.33 547.5 193.5 C552.08 197.67 556.04 202.67 560 207.25 C563.96 211.83 568.5 216.71 571.25 221 C574 225.29 575.62 231 576.5 233 L578.5 236.45" fill="none" stroke="#00008b" stroke-width="2.1" stroke-linejoin="round" stroke-dasharray="6.8 12.95"/>
<path d="M578.5 236.45V458.3" fill="none" stroke="#00008b" stroke-width="2.1" stroke-dasharray="6.8 12.95" stroke-dashoffset="0"/>
<path d="M76 462 C76.83 460.5 76 461.88 81 453 C86 444.12 97.67 423 106 408.75 C114.33 394.5 122.67 380.62 131 367.5 C139.33 354.38 146.58 343.54 156 330 C165.42 316.46 178.08 298.96 187.5 286.25 C196.92 273.54 205.68 262.24 212.5 253.75 C219.32 245.26 224.43 239.79 228.4 235.3 C232.37 230.81 233.98 229.32 236.3 226.8 C238.62 224.28 240.28 222.32 242.3 220.2 C244.32 218.08 246.38 216.02 248.4 214.1 C250.42 212.18 252.38 210.42 254.4 208.7 C256.42 206.98 258.48 205.42 260.5 203.8 C262.52 202.18 264.48 200.6 266.5 199 C268.52 197.4 270.58 195.82 272.6 194.2 C274.62 192.58 276.38 191.02 278.6 189.3 C280.82 187.58 283.3 185.85 285.9 183.9 C288.5 181.95 290.8 179.67 294.2 177.6 C297.6 175.53 302.27 173.43 306.3 171.5 C310.33 169.57 314.37 167.7 318.4 166 C322.43 164.3 326.07 163.18 330.5 161.3 C334.93 159.42 340.08 156.43 345 154.7 C349.92 152.97 355 151.72 360 150.9 C365 150.08 370 149.93 375 149.8 C380 149.67 385 149.82 390 150.1 C395 150.38 400 150.77 405 151.5 C410 152.23 415 153.45 420 154.5 C425 155.55 430 156.32 435 157.8 C440 159.28 445.83 161.55 450 163.4 C454.17 165.25 456.48 166.88 460 168.9 C463.52 170.92 467.4 172.92 471.1 175.5 C474.8 178.08 478.5 181.27 482.2 184.4 C485.9 187.53 489.62 190.8 493.3 194.3 C496.98 197.8 501.53 201.7 504.3 205.4 C507.07 209.1 508.05 212.8 509.9 216.5 C511.75 220.2 513.73 224.27 515.4 227.6 C517.07 230.93 518.6 233.17 519.9 236.5 C521.2 239.83 522.52 244.35 523.2 247.6 C523.88 250.85 523.87 254.6 524 256 L524 458.3" fill="none" stroke="#00008b" stroke-width="3.0" stroke-linejoin="round"/>
</g>
<rect x="56.8" y="14.15" width="583.6" height="439.15000000000003" fill="none" stroke="#000" stroke-width="1.8"/>
<text class="sf" transform="translate(104.3 471.8) rotate(0.05) scale(0.96 1)" font-size="13.6" text-anchor="middle">0.1</text>
<text class="sf" transform="translate(218.8 471.8) rotate(0.05) scale(0.96 1)" font-size="13.6" text-anchor="middle">1</text>
<text class="sf" transform="translate(333.3 471.8) rotate(0.05) scale(0.96 1)" font-size="13.6" text-anchor="middle">10</text>
<text class="sf" transform="translate(447.8 471.8) rotate(0.05) scale(0.96 1)" font-size="13.6" text-anchor="middle">100</text>
<text class="sf" transform="translate(562.3 471.8) rotate(0.05) scale(0.96 1)" font-size="13.6" text-anchor="middle">1000</text>
<text class="sf" transform="translate(48.7 459.3) rotate(0.05) scale(0.96 1)" font-size="13.6" text-anchor="end">10<tspan font-size="11" dy="-6.6">-9</tspan></text>
<text class="sf" transform="translate(48.7 357.2) rotate(0.05) scale(0.96 1)" font-size="13.6" text-anchor="end">10<tspan font-size="11" dy="-6.6">-8</tspan></text>
<text class="sf" transform="translate(48.7 255.1) rotate(0.05) scale(0.96 1)" font-size="13.6" text-anchor="end">10<tspan font-size="11" dy="-6.6">-7</tspan></text>
<text class="sf" transform="translate(48.7 153) rotate(0.05) scale(0.96 1)" font-size="13.6" text-anchor="end">10<tspan font-size="11" dy="-6.6">-6</tspan></text>
<text class="sf" transform="translate(48.7 50.9) rotate(0.05) scale(0.96 1)" font-size="13.6" text-anchor="end">10<tspan font-size="11" dy="-6.6">-5</tspan></text>
<text class="sf" transform="translate(348.6 492.5) rotate(0.05) scale(1.05 1)" font-size="16.3" text-anchor="middle">Energy [GeV]</text>
<text class="sf" transform="translate(18.2 233.9) rotate(-90)" font-size="16.5" text-anchor="middle" style="letter-spacing:0.25px;white-space:pre">E<tspan font-size="12.6" dy="-9.3">2</tspan><tspan dy="9.3"> dN/dE [GeV cm</tspan><tspan font-size="12.6" dy="-9.3">-2</tspan><tspan dy="9.3"> s</tspan><tspan font-size="12.6" dy="-9.3">-1</tspan><tspan dy="9.3"> sr</tspan><tspan font-size="12.6" dy="-9.3">-1</tspan><tspan dy="9.3">]</tspan></text>
<text class="ss" transform="translate(601.2 32.72) rotate(0.05) scale(1.026 1)" font-size="11.5" text-anchor="end">Gravitino signal, MED, BRs in prop. 2:1:1</text>
<text class="ss" transform="translate(601.2 45.92) rotate(0.05) scale(1.03 1)" font-size="11.5" text-anchor="end">Gravitino signal, MED, BRs free</text>
<text class="ss" transform="translate(601.2 59.12) rotate(0.05) scale(1.04 1)" font-size="11.5" text-anchor="end">Total astro. model</text>
<text class="ss" transform="translate(601.2 72.32) rotate(0.05) scale(1.026 1)" font-size="11.5" text-anchor="end">blazars (new)</text>
<text class="ss" transform="translate(601.2 85.52) rotate(0.05) scale(1.02 1)" font-size="11.5" text-anchor="end">Radio galaxies</text>
<text class="ss" transform="translate(601.2 98.72) rotate(0.05) scale(1.03 1)" font-size="11.5" text-anchor="end">Star-forming galaxies</text>
<text class="ss" transform="translate(601.2 111.92) rotate(0.05) scale(1.035 1)" font-size="11.5" text-anchor="end">Upper limit for DM</text>
<text class="ss" transform="translate(601.2 125.12) rotate(0.05) scale(1.026 1)" font-size="11.5" text-anchor="end">Galactic FB uncertainty</text>
<text class="ss" transform="translate(601.2 138.32) rotate(0.05) scale(1.035 1)" font-size="11.5" text-anchor="end">Fermi LAT, 50 months</text>
<path d="M609.9 29.07H624.8" stroke="#00008b" stroke-width="2.8"/>
<path d="M609.9 42.27H624.8" stroke="#dc143c" stroke-width="2.8"/>
<rect x="609.9" y="52.07" width="14.899999999999977" height="6.8" fill="#dddddd"/>
<rect x="609.9" y="65.27" width="14.899999999999977" height="6.8" fill="#c5e49e"/>
<rect x="609.9" y="78.47" width="14.899999999999977" height="6.8" fill="#80e0ff"/>
<rect x="609.9" y="91.67" width="14.899999999999977" height="6.8" fill="#e8b0b0"/>
<rect x="609.9" y="118.07" width="14.899999999999977" height="6.8" fill="#f8f3d6"/>
<path d="M609.9 108.27H624.8 M609.9 104.47V112.07 M624.8 104.47V112.07" fill="none" stroke="#8b0f0f" stroke-width="1.6"/>
<path d="M609.9 134.67H624.8 M609.9 130.87V138.47 M624.8 130.87V138.47" fill="none" stroke="#00ced1" stroke-width="1.4"/>
</svg></body></html>
